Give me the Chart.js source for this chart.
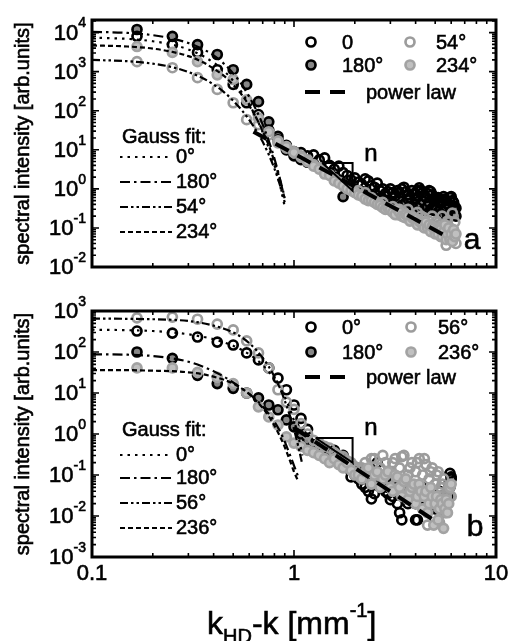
<!DOCTYPE html>
<html>
<head>
<meta charset="utf-8">
<script src="https://cdn.jsdelivr.net/npm/chart.js@4.4.1/dist/chart.umd.min.js"></script>
<style>
  html, body { margin: 0; padding: 0; background: #fff; width: 512px; height: 641px; overflow: hidden; }
  canvas { position: absolute; left: 0; }
  #chart-top { top: 0; }
  #chart-bot { top: 290px; }
</style>
</head>
<body>
<canvas id="chart-top" width="512" height="290"></canvas>
<canvas id="chart-bot" width="512" height="351"></canvas>
<script>
const FONT = '"Liberation Sans", Arial, Helvetica, sans-serif';

// k_HD - k grid [mm^-1] of the measured spectra (step 1/12)
const kGrid = [0.167, 0.25, 0.333, 0.417, 0.5, 0.583, 0.667, 0.75, 0.833, 0.917,
  1.0, 1.083, 1.167, 1.25, 1.333, 1.417, 1.5, 1.583, 1.667, 1.75, 1.833, 1.917, 2.0,
  2.083, 2.167, 2.25, 2.333, 2.417, 2.5, 2.583, 2.667, 2.75, 2.833, 2.917, 3.0,
  3.083, 3.167, 3.25, 3.333, 3.417, 3.5, 3.583, 3.667, 3.75, 3.833, 3.917, 4.0,
  4.083, 4.167, 4.25, 4.333, 4.417, 4.5, 4.583, 4.667, 4.75, 4.833, 4.917, 5.0,
  5.083, 5.167, 5.25, 5.333, 5.417, 5.5, 5.583, 5.667, 5.75, 5.833, 5.917, 6.0,
  6.083, 6.167, 6.25, 6.333];

// panel a: measured spectra
const top0 = [8000, 4900, 3100, 1120, 470, 160, 80, 32, 18, 10,
  9, 8.5, 7, 7.4, 5.5, 6.2, 4.0, 3.2, 3.8, 2.6, 2.2, 1.7, 1.9,
  1.5, 1.3, 1.8, 1.6, 1.2, 1.1, 1.4, 0.9, 1.0, 0.75, 0.85, 1.0,
  0.8, 0.65, 0.9, 0.8, 1.0, 1.1, 0.85, 0.7, 0.6, 0.9, 0.75, 0.55,
  0.9, 1.06, 0.9, 0.8, 0.65, 0.6, 0.75, 0.9, 0.85, 0.7, 0.5, 0.52,
  0.55, 0.6, 0.45, 0.45, 0.5, 0.63, 0.55, 0.5, 0.4, 0.4, 0.6, 0.63,
  0.5, 0.45, 0.35, 0.32];
const top180 = [12000, 8000, 4900, 2750, 1120, 470, 170, 52, 22, 13,
  7, 5.6, 4.8, 4.4, 3.4, 2.8, 2.6, 2.0, 1.7, 0.63, 1.3, 1.1, 0.9,
  0.9, 0.85, 0.75, 0.7, 0.65, 0.6, 0.55, 0.6, 0.5, 0.5, 0.45, 0.45,
  0.42, 0.4, 0.45, 0.5, 0.38, 0.35, 0.45, 0.55, 0.35, 0.3, 0.35, 0.4,
  0.35, 0.32, 0.4, 0.5, 0.3, 0.28, 0.35, 0.45, 0.3, 0.3, 0.28, 0.35,
  0.3, 0.25, 0.28, 0.3, 0.25, 0.22, 0.3, 0.35, 0.22, 0.2, 0.25, 0.25,
  0.3, 0.3, 0.22, 0.2];
const top54 = [1800, 1260, 700, 350, 160, 59, 44, 24, 15, 11,
  9, 7, 5.5, 4.2, 3.5, 2.7, 2.3, 1.8, 1.5, 1.3, 1.1, 0.95, 0.85,
  0.9, 0.7, 0.8, 0.55, 0.6, 0.5, 0.45, 0.4, 0.45, 0.35, 0.3, 0.3,
  0.35, 0.27, 0.22, 0.3, 0.25, 0.25, 0.18, 0.3, 0.2, 0.2, 0.16, 0.14,
  0.25, 0.16, 0.2, 0.11, 0.18, 0.13, 0.1, 0.15, 0.09, 0.2, 0.11, 0.08,
  0.15, 0.1, 0.12, 0.06, 0.2, 0.08, 0.12, 0.036, 0.15, 0.07, 0.1, 0.05,
  0.24, 0.06, 0.14, 0.04];
const top234 = [4400, 3100, 1800, 830, 630, 190, 66, 29, 17, 12,
  8.5, 6.5, 5, 3.8, 3.2, 2.4, 2.2, 1.6, 1.4, 1.2, 1.0, 0.9, 0.8,
  0.7, 0.65, 0.55, 0.5, 0.5, 0.45, 0.4, 0.38, 0.33, 0.3, 0.32, 0.3,
  0.25, 0.22, 0.3, 0.25, 0.2, 0.19, 0.22, 0.2, 0.15, 0.19, 0.17, 0.17,
  0.12, 0.15, 0.14, 0.12, 0.1, 0.14, 0.1, 0.12, 0.08, 0.11, 0.1, 0.07,
  0.09, 0.07, 0.1, 0.09, 0.06, 0.08, 0.12, 0.05, 0.07, 0.1, 0.05, 0.07,
  0.045, 0.09, 0.06, 0.07];

// panel b: measured spectra (end at k = 6.0)
const bot0 = [325, 290, 232, 175, 148, 95, 64, 41, 23, 12,
  5.1, 2.4, 1.3, 0.55, 0.42, 0.38, 0.33, 0.4, 0.28, 0.2, 0.15, 0.09, 0.1,
  0.08, 0.06, 0.05, 0.04, 0.026, 0.035, 0.2, 0.1, 0.05, 0.04, 0.035, 0.025,
  0.03, 0.04, 0.02, 0.012, 0.008, 0.03, 0.05, 0.02, 0.04, 0.03, 0.025, 0.008,
  0.008, 0.03, 0.04, 0.05, 0.025, 0.03, 0.02, 0.04, 0.03, 0.02, 0.035, 0.02,
  0.03, 0.02, 0.04, 0.03, 0.02, 0.025, 0.03, 0.02, 0.04, 0.06, 0.11, 0.08];
const bot180 = [100, 70, 27, 17, 13, 10, 7.6, 5.1, 3.9, 2.2,
  1.5, 1.0, 0.7, 0.5, 0.45, 0.35, 0.3, 0.25, 0.22, 0.3, 0.18, 0.15, 0.12,
  0.12, 0.1, 0.09, 0.09, 0.11, 0.12, 0.08, 0.07, 0.07, 0.06, 0.05, 0.05,
  0.06, 0.08, 0.05, 0.04, 0.035, 0.03, 0.04, 0.05, 0.03, 0.025, 0.03, 0.02,
  0.025, 0.03, 0.04, 0.03, 0.022, 0.025, 0.03, 0.02, 0.018, 0.025, 0.02, 0.015,
  0.02, 0.025, 0.018, 0.015, 0.02, 0.025, 0.015, 0.02, 0.025, 0.03, 0.05, 0.09];
const bot56 = [680, 710, 630, 480, 345, 186, 95, 41, 12, 6,
  4, 1.8, 1.0, 0.7, 0.6, 0.5, 0.45, 0.35, 0.3, 0.28, 0.22, 0.2, 0.16,
  0.15, 0.15, 0.2, 0.12, 0.25, 0.25, 0.1, 0.15, 0.3, 0.2, 0.08, 0.12,
  0.2, 0.25, 0.06, 0.15, 0.28, 0.3, 0.05, 0.1, 0.15, 0.2, 0.04, 0.12,
  0.2, 0.25, 0.03, 0.1, 0.25, 0.18, 0.006, 0.08, 0.12, 0.15, 0.02, 0.06,
  0.1, 0.12, 0.007, 0.05, 0.06, 0.08, 0.012, 0.03, 0.04, 0.05, 0.03, 0.03];
const bot236 = [41, 41, 32, 24, 17, 10, 4.6, 2.6, 1.66, 0.85,
  0.6, 0.5, 0.4, 0.35, 0.3, 0.25, 0.2, 0.25, 0.18, 0.15, 0.2, 0.13, 0.1,
  0.1, 0.08, 0.12, 0.15, 0.06, 0.1, 0.12, 0.05, 0.08, 0.1, 0.12, 0.05,
  0.04, 0.1, 0.09, 0.05, 0.03, 0.07, 0.08, 0.025, 0.04, 0.05, 0.06, 0.02,
  0.03, 0.06, 0.04, 0.015, 0.03, 0.04, 0.012, 0.02, 0.05, 0.03, 0.006, 0.02,
  0.03, 0.008, 0.015, 0.025, 0.02, 0.005, 0.015, 0.025, 0.012, 0.02, 0.05, 0.06];

// Gauss fits, sampled on fitK
const fitK = [0.1, 0.15, 0.2, 0.25, 0.3, 0.35, 0.4, 0.45, 0.5, 0.55, 0.6,
  0.65, 0.7, 0.75, 0.8, 0.85, 0.9, 0.95, 1.0, 1.05, 1.1];
const fitTop0 = [7400, 6900, 6000, 4900, 3700, 2600, 1700, 1050, 580, 300, 145, 66, 28, 11, 4, 1.3, 0.35];
const fitTop180 = [10500, 9800, 8600, 7000, 5400, 3900, 2600, 1600, 900, 480, 230, 105, 44, 17, 6, 1.9, 0.6];
const fitTop54 = [2000, 1850, 1600, 1300, 980, 700, 470, 300, 180, 105, 58, 31, 16, 7.5, 3.3, 1.3, 0.45];
const fitTop234 = [4700, 4400, 3900, 3200, 2500, 1800, 1200, 780, 460, 260, 135, 66, 30, 13, 5, 1.8, 0.55];
const fitBot0 = [350, 340, 325, 300, 270, 238, 205, 172, 142, 113, 88, 66, 48, 33, 22, 14, 8, 4.3, 2.1, 0.9, 0.3];
const fitBot180 = [88, 86, 80, 70, 58, 45, 34, 25, 18, 13, 9.5, 6.8, 4.7, 3.1, 2.0, 1.2, 0.65, 0.33, 0.17, 0.09];
const fitBot56 = [650, 645, 630, 610, 570, 510, 440, 370, 300, 230, 165, 112, 72, 44, 25, 13.5, 6.5, 3, 1.3, 0.5, 0.18];
const fitBot236 = [36, 36, 35, 34, 32, 29, 25, 21, 17, 13, 9.5, 6.5, 4.3, 2.7, 1.6, 0.9, 0.48, 0.24, 0.12, 0.07];

// power law lines and slope triangles (x, y end points)
const powTopK = [0.63, 5.9];
const powTopY = [29, 0.055];
const powBotK = [1.0, 5.0];
const powBotY = [1.42, 0.0075];
const triTopK = [1.38, 1.95, 1.95, 1.38];
const triTopY = [4.6, 4.6, 0.9, 4.6];
const triBotK = [1.28, 1.95, 1.95, 1.28];
const triBotY = [0.8, 0.8, 0.2, 0.8];

const pts = (xs, ys) => ys.map((y, i) => ({ x: xs[i], y }));

const OPEN_BLACK = { borderColor: '#000', backgroundColor: 'rgba(255,255,255,0)' };
const FILL_DARK = { borderColor: '#000', backgroundColor: '#878787' };
const OPEN_GRAY = { borderColor: '#9c9c9c', backgroundColor: 'rgba(255,255,255,0)' };
const FILL_GRAY = { borderColor: '#a3a3a3', backgroundColor: '#c0c0c0' };

const DASH = {
  dot: [2.5, 5],
  dashDot: [10, 4, 2.5, 4],
  dashDotDot: [8, 3, 2.5, 3, 2.5, 3],
  dash: [5, 3]
};

// lower order is drawn later (on top): gray sets cover the black ones
function marks(key, xs, ys, style, order) {
  return Object.assign({ key, data: pts(xs, ys), pointRadius: 4.5, borderWidth: 2.7, showLine: false, order }, style);
}

function fitLine(key, ys, dash) {
  return {
    key, data: pts(fitK, ys), showLine: true, pointRadius: 0, borderColor: '#000',
    borderWidth: 2.2, borderDash: dash, cubicInterpolationMode: 'monotone', order: 1
  };
}

function straight(key, xs, ys, width, dash) {
  return {
    key, data: pts(xs, ys), showLine: true, pointRadius: 0, borderColor: '#000',
    borderWidth: width, borderDash: dash || [], order: 0
  };
}

// filled text with a thin outline, the scan looks heavier than plain Arial
function txt(ctx, s, x, y) {
  ctx.fillText(s, x, y);
  ctx.save();
  ctx.lineWidth = 0.6;
  ctx.strokeStyle = ctx.fillStyle;
  ctx.setLineDash([]);
  ctx.strokeText(s, x, y);
  ctx.restore();
}

// ticks, frame, labels and the hand-placed legends
const panelDecor = {
  id: 'panelDecor',
  afterDatasetsDraw(chart, args, o) {
    const { ctx, chartArea: a, scales: { x, y } } = chart;
    const byKey = k => chart.data.datasets.find(d => d.key === k);
    ctx.save();
    ctx.fillStyle = '#000';
    ctx.strokeStyle = '#000';

    // minor/major ticks, pointing inwards on all four sides
    ctx.lineWidth = 1.6;
    for (let d = -1; d <= 1; d++) {
      for (let m = 1; m <= 9; m++) {
        const v = m * Math.pow(10, d);
        if (v < x.min || v > x.max) continue;
        const px = x.getPixelForValue(v);
        const len = m === 1 ? 7 : 4;
        ctx.beginPath();
        ctx.moveTo(px, a.bottom); ctx.lineTo(px, a.bottom - len);
        ctx.moveTo(px, a.top); ctx.lineTo(px, a.top + len);
        ctx.stroke();
      }
    }
    const lo = Math.floor(Math.log10(y.min)), hi = Math.ceil(Math.log10(y.max));
    for (let d = lo; d <= hi; d++) {
      for (let m = 1; m <= 9; m++) {
        const v = m * Math.pow(10, d);
        if (v < y.min * 0.999 || v > y.max) continue;
        const py = y.getPixelForValue(v);
        const len = m === 1 ? 7 : 4;
        ctx.beginPath();
        ctx.moveTo(a.left, py); ctx.lineTo(a.left + len, py);
        ctx.moveTo(a.right, py); ctx.lineTo(a.right - len, py);
        ctx.stroke();
      }
    }

    ctx.lineWidth = 3;
    ctx.strokeRect(a.left, a.top, a.right - a.left, a.bottom - a.top);

    // y tick labels 10^n
    ctx.textBaseline = 'middle';
    ctx.textAlign = 'right';
    for (let d = lo; d <= hi; d++) {
      const v = Math.pow(10, d);
      if (v < y.min * 0.999 || v > y.max) continue;
      const py = y.getPixelForValue(v);
      const ex = String(d);
      ctx.font = `14px ${FONT}`;
      const ew = ctx.measureText(ex).width;
      txt(ctx, ex, 86, py - 9);
      ctx.font = `22px ${FONT}`;
      txt(ctx, '10', 86 - ew, py + 1);
    }

    // x tick labels (lower panel only)
    if (o.xLabels) {
      ctx.textAlign = 'center';
      ctx.font = `22px ${FONT}`;
      [[0.1, '0.1'], [1, '1'], [10, '10']].forEach(([v, t]) => {
        txt(ctx, t, x.getPixelForValue(v), a.bottom + 17);
      });
    }

    // y title
    ctx.save();
    ctx.translate(23, (a.top + a.bottom) / 2);
    ctx.rotate(-Math.PI / 2);
    ctx.textAlign = 'center';
    ctx.font = `20px ${FONT}`;
    txt(ctx, 'spectral intensity [arb.units]', 0, 0);
    ctx.restore();

    // Gauss fit legend
    const g = o.gauss;
    ctx.textAlign = 'left';
    ctx.font = `20px ${FONT}`;
    txt(ctx, 'Gauss fit:', g.x, g.titleY);
    g.keys.forEach((k, i) => {
      const ds = byKey(k);
      const yy = g.rows[i];
      ctx.save();
      ctx.strokeStyle = '#000';
      ctx.lineWidth = ds.borderWidth;
      ctx.setLineDash(ds.borderDash);
      ctx.beginPath();
      ctx.moveTo(g.x - 2, yy); ctx.lineTo(g.x + 50, yy);
      ctx.stroke();
      ctx.restore();
      txt(ctx, g.labels[i], g.x + 54, yy);
    });

    // marker legend
    const L = o.marks;
    L.keys.forEach((row, r) => {
      row.forEach((k, c) => {
        const ds = byKey(k);
        const mx = L.markX[c], my = L.rows[r];
        ctx.save();
        ctx.beginPath();
        ctx.arc(mx, my, 4.5, 0, Math.PI * 2);
        ctx.fillStyle = ds.backgroundColor;
        ctx.fill();
        ctx.lineWidth = ds.borderWidth;
        ctx.strokeStyle = ds.borderColor;
        ctx.stroke();
        ctx.restore();
        txt(ctx, L.labels[r][c], L.textX[c], my + 1);
      });
    });
    const pl = byKey(L.powKey);
    ctx.save();
    ctx.strokeStyle = pl.borderColor;
    ctx.lineWidth = pl.borderWidth;
    ctx.setLineDash(pl.borderDash);
    ctx.beginPath();
    ctx.moveTo(305, L.rows[2]); ctx.lineTo(349, L.rows[2]);
    ctx.stroke();
    ctx.restore();
    txt(ctx, 'power law', 366, L.rows[2] + 1);

    // slope label and panel letter
    ctx.font = `24px ${FONT}`;
    ctx.textAlign = 'center';
    txt(ctx, 'n', o.nPos[0], o.nPos[1]);
    ctx.font = `30px ${FONT}`;
    txt(ctx, o.letter, o.letterPos[0], o.letterPos[1]);

    // x title (lower panel only)
    if (o.xTitle) {
      const base = 344;
      let tx = 207;
      const big = `32px ${FONT}`, small = `20px ${FONT}`;
      ctx.textAlign = 'left';
      ctx.textBaseline = 'alphabetic';
      ctx.font = big; txt(ctx, 'k', tx, base); tx += ctx.measureText('k').width;
      ctx.font = small; txt(ctx, 'HD', tx, base + 9); tx += ctx.measureText('HD').width;
      ctx.font = big; txt(ctx, '-k [mm', tx, base); tx += ctx.measureText('-k [mm').width;
      ctx.font = small; txt(ctx, '-1', tx, base - 17); tx += ctx.measureText('-1').width;
      ctx.font = big; txt(ctx, ']', tx, base);
    }
    ctx.restore();
  }
};

function buildPanel(id, datasets, yMin, yMax, padTop, xHeight, decor) {
  return new Chart(document.getElementById(id), {
    type: 'scatter',
    data: { datasets },
    options: {
      responsive: false,
      animation: false,
      events: [],
      layout: { padding: { left: 0, right: 16, top: padTop, bottom: 0 } },
      scales: {
        x: {
          type: 'logarithmic', min: 0.1, max: 10,
          grid: { display: false }, border: { display: false },
          ticks: { display: false },
          afterFit: s => { s.height = xHeight; }
        },
        y: {
          type: 'logarithmic', min: yMin, max: yMax,
          grid: { display: false }, border: { display: false },
          ticks: { display: false },
          afterFit: s => { s.width = 92; }
        }
      },
      plugins: { legend: { display: false }, tooltip: { enabled: false }, panelDecor: decor }
    },
    plugins: [panelDecor]
  });
}

buildPanel('chart-top', [
  straight('pow', powTopK, powTopY, 4, [15, 10]),
  straight('tri', triTopK, triTopY, 2),
  fitLine('f0', fitTop0, DASH.dot),
  fitLine('f180', fitTop180, DASH.dashDot),
  fitLine('f54', fitTop54, DASH.dashDotDot),
  fitLine('f234', fitTop234, DASH.dash),
  marks('d0', kGrid, top0, OPEN_BLACK, 4),
  marks('d180', kGrid, top180, FILL_DARK, 5),
  marks('d54', kGrid, top54, OPEN_GRAY, 3),
  marks('d234', kGrid, top234, FILL_GRAY, 2)
], 0.01, 2.1e4, 20, 23, {
  letter: 'a', letterPos: [472, 241], nPos: [371, 154], xLabels: false, xTitle: false,
  gauss: { x: 122, titleY: 137, rows: [157, 182, 207, 232], keys: ['f0', 'f180', 'f54', 'f234'], labels: ['0°', '180°', '54°', '234°'] },
  marks: { rows: [42, 65, 92], markX: [311, 410], textX: [342, 436], keys: [['d0', 'd54'], ['d180', 'd234']], labels: [['0', '54°'], ['180°', '234°']], powKey: 'pow' }
});

buildPanel('chart-bot', [
  straight('pow', powBotK, powBotY, 4, [15, 10]),
  straight('tri', triBotK, triBotY, 2),
  fitLine('f0', fitBot0, DASH.dot),
  fitLine('f180', fitBot180, DASH.dashDot),
  fitLine('f56', fitBot56, DASH.dashDotDot),
  fitLine('f236', fitBot236, DASH.dash),
  marks('d0', kGrid, bot0, OPEN_BLACK, 4),
  marks('d180', kGrid, bot180, FILL_DARK, 5),
  marks('d56', kGrid, bot56, OPEN_GRAY, 3),
  marks('d236', kGrid, bot236, FILL_GRAY, 2)
], 0.001, 1000, 21, 84, {
  letter: 'b', letterPos: [475, 238], nPos: [371, 138], xLabels: true, xTitle: true,
  gauss: { x: 122, titleY: 140, rows: [165, 188, 213, 238], keys: ['f0', 'f180', 'f56', 'f236'], labels: ['0°', '180°', '56°', '236°'] },
  marks: { rows: [37, 62, 87], markX: [311, 411], textX: [342, 438], keys: [['d0', 'd56'], ['d180', 'd236']], labels: [['0°', '56°'], ['180°', '236°']], powKey: 'pow' }
});
</script>
</body>
</html>
